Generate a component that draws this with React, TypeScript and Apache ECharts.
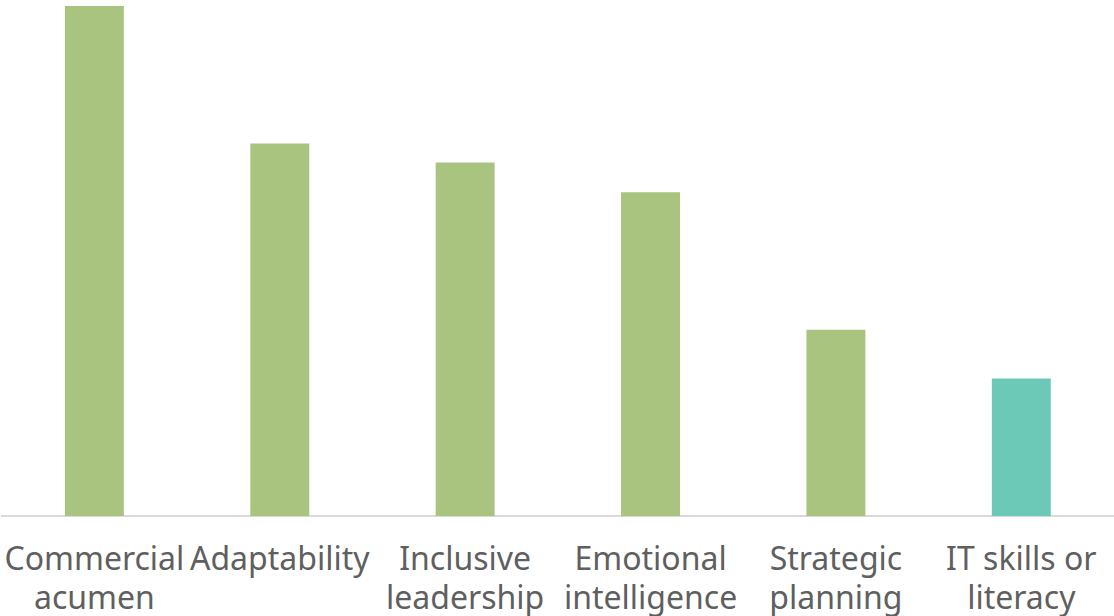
import React, { useEffect, useRef } from "react";
import * as echarts from "echarts";

const categories = [
  "Commercial\nacumen",
  "Adaptability",
  "Inclusive\nleadership",
  "Emotional\nintelligence",
  "Strategic\nplanning",
  "IT skills or\nliteracy",
];
const values = [51.2, 37.4, 35.5, 32.5, 18.7, 13.8];
const barColors = ["#A9C47F", "#A9C47F", "#A9C47F", "#A9C47F", "#A9C47F", "#6CC9B8"];

export default function App() {
  const ref = useRef<HTMLDivElement>(null);
  useEffect(() => {
    if (!ref.current) return;
    const chart = echarts.init(ref.current, null, { renderer: "svg" });
    chart.setOption({
      animation: false,
      grid: { left: 1.7, width: 1113.6, top: 6, bottom: 98, containLabel: false },
      xAxis: {
        type: "category",
        data: categories,
        axisLine: { show: true, lineStyle: { color: "#D9D9D9", width: 2 } },
        axisTick: { show: false },
        axisLabel: {
          interval: 0,
          color: "#5F5F5F",
          fontFamily: "Noto Sans",
          fontSize: 32,
          lineHeight: 39,
          margin: 22,
        },
      },
      yAxis: {
        type: "value",
        min: 0,
        max: values[0],
        show: false,
        splitLine: { show: false },
      },
      series: [
        {
          type: "bar",
          barWidth: "31.8%",
          data: values.map((v, i) => ({ value: v, itemStyle: { color: barColors[i] } })),
        },
      ],
    });
    return () => chart.dispose();
  }, []);
  return (
    <div
      ref={ref}
      style={{ position: "fixed", left: 0, top: 0, width: 1114, height: 616, background: "#fff" }}
    />
  );
}
